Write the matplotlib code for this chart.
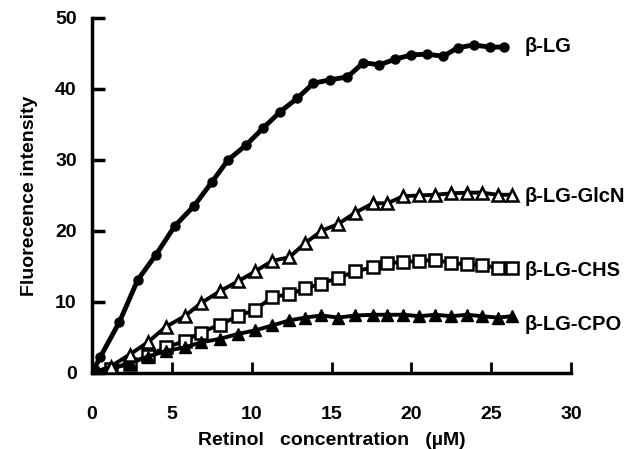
import matplotlib
matplotlib.use('Agg')
import matplotlib.pyplot as plt

plt.rcParams['font.family'] = ['Liberation Sans', 'DejaVu Sans']

# DATA
x_lg = [0, 0.53, 1.72, 2.86, 3.99, 5.18, 6.38, 7.51, 8.52, 9.65, 10.72, 11.79, 12.86,
        13.86, 14.93, 16.0, 17.0, 18.0, 19.0, 20.0, 21.0, 22.0, 22.9, 23.9, 24.9, 25.8]
y_lg = [0, 2.3, 7.2, 13.1, 16.6, 20.7, 23.5, 26.9, 30.0, 32.1, 34.5, 36.8, 38.7,
        40.8, 41.3, 41.7, 43.7, 43.4, 44.2, 44.8, 44.9, 44.6, 45.8, 46.2, 45.9, 45.9]

x_mod = [0, 1.16, 2.36, 3.48, 4.62, 5.81, 6.8, 8.0, 9.14, 10.21, 11.3, 12.35, 13.36,
         14.36, 15.43, 16.5, 17.6, 18.5, 19.5, 20.5, 21.5, 22.5, 23.5, 24.4, 25.4, 26.3]
y_glcn = [0, 0.9, 2.6, 4.3, 6.5, 8.0, 9.8, 11.5, 12.9, 14.3, 15.8, 16.3, 18.3,
          20.0, 21.0, 22.6, 23.9, 23.9, 24.9, 25.0, 25.1, 25.3, 25.4, 25.4, 25.1, 25.1]
y_chs = [0, 0.6, 1.3, 2.4, 3.6, 4.5, 5.7, 6.8, 8.0, 8.9, 10.7, 11.1, 11.9,
         12.6, 13.4, 14.3, 14.9, 15.5, 15.6, 15.8, 15.9, 15.5, 15.3, 15.2, 14.8, 14.8]
y_cpo = [0, 0.6, 1.4, 2.3, 3.1, 3.6, 4.3, 4.8, 5.5, 6.0, 6.7, 7.4, 7.8,
         8.1, 7.8, 8.1, 8.2, 8.2, 8.2, 8.0, 8.2, 8.0, 8.2, 8.0, 7.8, 8.0]

labels = ['β-LG', 'β-LG-GlcN', 'β-LG-CHS', 'β-LG-CPO']
label_y = [46.0, 24.9, 14.5, 6.8]

fig = plt.figure(figsize=(6.43, 4.49), dpi=100)
ax = fig.add_axes([0.1431, 0.1693, 0.745, 0.7907])

ax.plot(x_mod, y_chs, color='black', lw=2.8, marker='s', ms=8, mfc='white', mec='black', mew=1.8, zorder=2)
ax.plot(x_mod, y_cpo, color='black', lw=2.8, marker='^', ms=8, mfc='black', mec='black', zorder=3)
ax.plot(x_mod, y_glcn, color='black', lw=2.8, marker='^', ms=8, mfc='white', mec='black', mew=1.8, zorder=3)
ax.plot(x_lg, y_lg, color='black', lw=3.5, marker='o', ms=6.5, mfc='black', mec='black', zorder=4)

for lab, ly in zip(labels, label_y):
    ax.text(27.1, ly, lab, fontsize=14.5, fontweight='bold', va='center', ha='left', clip_on=False)

ax.set_xlim(0, 30)
ax.set_ylim(0, 50)
ax.set_xticks(range(0, 31, 5))
ax.set_yticks(range(0, 51, 10))
ax.spines['top'].set_visible(False)
ax.spines['right'].set_visible(False)
ax.spines['left'].set_linewidth(2.5)
ax.spines['bottom'].set_linewidth(2.5)
ax.tick_params(axis='y', direction='in', length=9, width=2.5, pad=11, labelsize=14)
ax.tick_params(axis='x', direction='in', length=8, width=2, pad=24, labelsize=14)
for t in ax.get_xticklabels() + ax.get_yticklabels():
    t.set_fontweight('bold')

ax.set_xlabel('Retinol   concentration   (µM)', fontsize=14, fontweight='bold', labelpad=6)
ax.set_ylabel('Fluorecence intensity', fontsize=14, fontweight='bold', labelpad=12)

fig.savefig('out.png', dpi=100)
